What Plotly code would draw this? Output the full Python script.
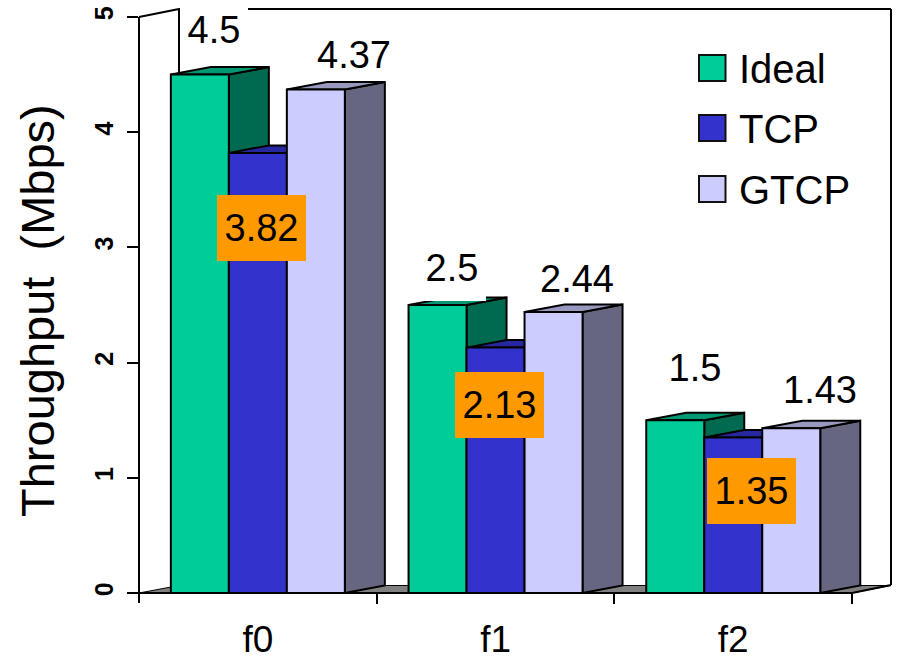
import plotly.graph_objects as go

categories = ["f0", "f1", "f2"]
ideal = [4.5, 2.5, 1.5]
tcp = [3.82, 2.13, 1.35]
gtcp = [4.37, 2.44, 1.43]
series_names = ["Ideal", "TCP", "GTCP"]
y_ticks = [0, 1, 2, 3, 4, 5]

FONT = "Liberation Sans"
BLACK = "#000000"
front_colors = ["#00CC99", "#3333CC", "#CCCCFF"]
side_colors = ["#006A50", "#1A1A66", "#666680"]
top_colors = ["#009973", "#27279F", "#9999BF"]

W, H = 897, 661
L, R, T, B = 139, 893, 8, 593      # plot area edges on the page
CAT_PX = 237.7                     # width of one category
UNIT_PX = 115.2                    # height of one y unit
BAR_PX = 58
DEPTH_X_PX, DEPTH_Y_PX = 40, 7.5

x_min = -0.5
x_max = x_min + (R - L) / CAT_PX
y_max = (B - T) / UNIT_PX
bar_w = BAR_PX / CAT_PX
dx = DEPTH_X_PX / CAT_PX
dy = DEPTH_Y_PX / UNIT_PX


def px(x):
    return (x - L) / (R - L)


def py(y):
    return (B - y) / (B - T)


def data_x(x):
    return x_min + (x - L) / CAT_PX


def data_y(y):
    return (B - y) / UNIT_PX


def page_line(x0, y0, x1, y1, width=2):
    return dict(type="line", xref="paper", yref="paper", layer="below",
                x0=px(x0), y0=py(y0), x1=px(x1), y1=py(y1),
                line=dict(color=BLACK, width=width))


def poly(points, fill):
    path = "M " + " L ".join(f"{x},{y}" for x, y in points) + " Z"
    return dict(type="path", xref="x", yref="y", layer="below", path=path,
                fillcolor=fill, line=dict(color=BLACK, width=2))


shapes = []

# chart floor
shapes.append(dict(
    type="path", xref="paper", yref="paper", layer="below",
    path=(f"M {px(139)},{py(593)} L {px(179)},{py(585.5)} "
          f"L {px(891)},{py(585.5)} L {px(852)},{py(593)} Z"),
    fillcolor="#808080", line=dict(color=BLACK, width=1)))

# back wall and front axis lines
shapes += [
    page_line(139, 17, 179, 9),
    page_line(179, 9, 179, 585),
    page_line(179, 9, 891, 9),
    page_line(891, 9, 891, 585),
    page_line(891, 585, 852, 593),
    page_line(139, 17, 139, 603),
    page_line(128, 593, 852, 593),
]

# side and top faces, painted back to front; the bar fronts sit above them
all_values = [ideal, tcp, gtcp]
for cat, _ in enumerate(categories):
    for s, values in enumerate(all_values):
        v = values[cat]
        x0 = cat + (s - 1.5) * bar_w
        x1 = x0 + bar_w
        shapes.append(poly([(x1, 0), (x1 + dx, dy), (x1 + dx, v + dy), (x1, v)],
                           side_colors[s]))
        shapes.append(poly([(x0, v), (x0 + dx, v + dy), (x1 + dx, v + dy), (x1, v)],
                           top_colors[s]))

fig = go.Figure()
for s, values in enumerate(all_values):
    fig.add_trace(go.Bar(
        x=list(range(len(categories))), y=values, name=series_names[s],
        width=bar_w, offset=(s - 1.5) * bar_w,
        marker=dict(color=front_colors[s], line=dict(color=BLACK, width=2)),
        showlegend=False, hoverinfo="x+y",
    ))

annotations = []


def label(text, cx, cy, size=38, bg=None, w=None, h=None, **kw):
    a = dict(text=text, xref="x", yref="y", x=data_x(cx), y=data_y(cy),
             showarrow=False, xanchor="center", yanchor="middle",
             font=dict(family=FONT, size=size, color=BLACK), borderpad=0, borderwidth=0)
    if bg:
        a.update(bgcolor=bg, width=w, height=h)
    a.update(kw)
    annotations.append(a)


# value labels: white boxes on Ideal, orange on TCP, plain on GTCP
for v, (cx, cy) in zip(ideal, [(214, 30), (452, 268), (695, 368)]):
    label(f"{v:g}", cx, cy, bg="#FFFFFF", w=68, h=66)
for v, (cx, cy) in zip(tcp, [(261, 228), (499.5, 404.5), (751.5, 490.5)]):
    label(f"{v:g}", cx, cy, bg="#FF9900", w=89, h=66)
for v, (cx, cy) in zip(gtcp, [(354, 55), (577, 279), (820, 390)]):
    label(f"{v:g}", cx, cy)

# hand-placed legend
for name, color, top in zip(series_names, front_colors, [55, 115, 176]):
    shapes.append(dict(type="rect", xref="paper", yref="paper", layer="above",
                       x0=px(699), x1=px(725.5), y0=py(top), y1=py(top + 26),
                       fillcolor=color, line=dict(color="#111111", width=2)))
    label(name, 739, top + 14, size=40, xanchor="left")

# y axis title
annotations.append(dict(
    text="Throughput  (Mbps)", xref="paper", yref="paper",
    x=px(38), y=py(311), textangle=-90, showarrow=False,
    xanchor="center", yanchor="middle",
    font=dict(family=FONT, size=47, color=BLACK)))

fig.update_layout(
    width=W, height=H,
    margin=dict(l=L, r=W - R, t=T, b=H - B, autoexpand=False),
    paper_bgcolor="#FFFFFF", plot_bgcolor="#FFFFFF",
    barmode="overlay", showlegend=False,
    shapes=shapes, annotations=annotations,
    xaxis=dict(
        range=[x_min, x_max], tickmode="array",
        tickvals=list(range(len(categories))), ticktext=categories,
        ticks="", ticklen=0, showgrid=False, zeroline=False, showline=False,
        ticklabelstandoff=21,
        tickfont=dict(family=FONT, size=37, color=BLACK),
        minor=dict(tickmode="array", tickvals=[0.5, 1.5, 2.5], ticks="outside",
                   ticklen=10, tickwidth=2, tickcolor=BLACK, showgrid=False),
    ),
    yaxis=dict(
        range=[0, y_max], tickmode="array", tickvals=y_ticks,
        ticks="outside", ticklen=11, tickwidth=2, tickcolor=BLACK,
        tickangle=-90, showgrid=False, zeroline=False, showline=False,
        ticklabelstandoff=4,
        tickfont=dict(family=FONT, size=25, color=BLACK, weight="bold"),
    ),
)

fig.write_html("out.html", config=dict(displayModeBar=False))
